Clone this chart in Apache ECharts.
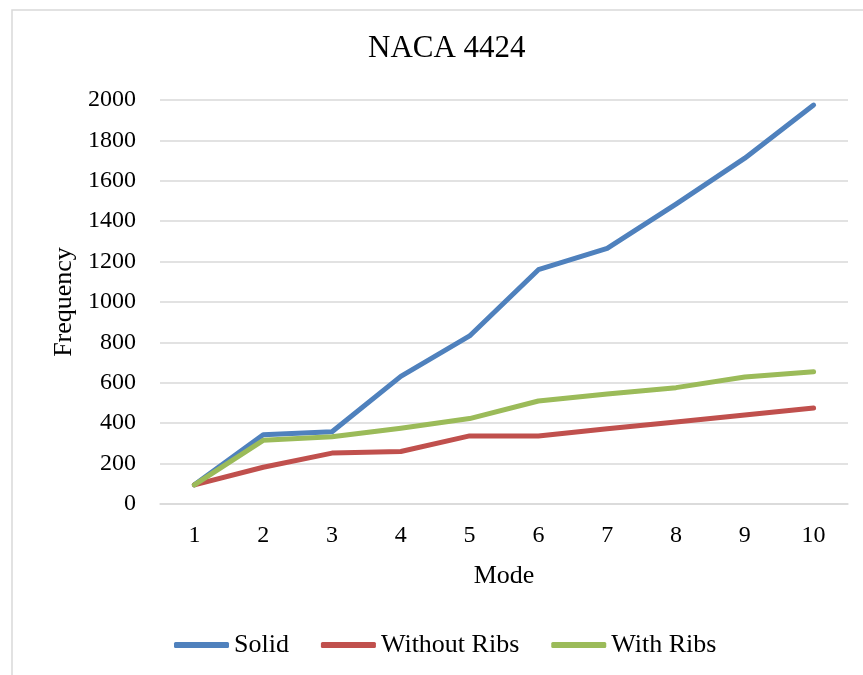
<!DOCTYPE html>
<html>
<head>
<meta charset="utf-8">
<script src="https://cdn.jsdelivr.net/npm/echarts@6/dist/echarts.min.js"></script>
<style>
  html, body { margin: 0; padding: 0; background: #ffffff; }
  #chart { width: 863px; height: 675px; }
</style>
</head>
<body>
<div id="chart"></div>
<script>
// Natural frequencies of the NACA 4424 section, by mode
const modes = ['1', '2', '3', '4', '5', '6', '7', '8', '9', '10'];
const solid = [95, 343, 358, 632, 832, 1160, 1265, 1485, 1712, 1975];
const withoutRibs = [95, 182, 252, 260, 337, 337, 372, 406, 441, 475];
const withRibs = [95, 315, 333, 375, 423, 510, 545, 576, 629, 655];

const seriesNames = ['Solid', 'Without Ribs', 'With Ribs'];
const seriesColors = ['#4F81BD', '#C0504D', '#9BBB59'];
const seriesData = [solid, withoutRibs, withRibs];

const FONT = '"Liberation Serif", "DejaVu Serif", serif';
const GRID_COLOR = '#d9d9d9';

const chart = echarts.init(document.getElementById('chart'), null, { renderer: 'canvas' });

chart.setOption({
  animation: false,
  backgroundColor: '#ffffff',
  textStyle: { fontFamily: FONT, color: '#000000' },
  graphic: [{
    type: 'rect',
    shape: { x: 12, y: 10, width: 900, height: 700 },
    style: { fill: 'none', stroke: GRID_COLOR, lineWidth: 1.5 },
    silent: true
  }],
  title: {
    text: 'NACA 4424',
    left: 363,
    top: 28,
    textStyle: { fontFamily: FONT, fontSize: 31, fontWeight: 'normal', color: '#000000' }
  },
  legend: {
    data: seriesNames,
    left: 169,
    top: 627,
    itemWidth: 55,
    itemHeight: 6,
    itemGap: 32,
    icon: 'roundRect',
    textStyle: { fontFamily: FONT, fontSize: 26, color: '#000000' }
  },
  grid: { left: 160, right: 15, top: 100, bottom: 171 },
  xAxis: {
    type: 'category',
    data: modes,
    boundaryGap: true,
    name: 'Mode',
    nameLocation: 'middle',
    nameGap: 59,
    nameTextStyle: { fontFamily: FONT, fontSize: 26, color: '#000000' },
    axisLine: { show: true, lineStyle: { color: GRID_COLOR, width: 1.5 } },
    axisTick: { show: false },
    axisLabel: { fontFamily: FONT, fontSize: 24, color: '#000000', margin: 20 },
    splitLine: { show: false }
  },
  yAxis: {
    type: 'value',
    min: 0,
    max: 2000,
    interval: 200,
    name: 'Frequency',
    nameLocation: 'middle',
    nameGap: 80,
    nameTextStyle: { fontFamily: FONT, fontSize: 26, color: '#000000' },
    axisLine: { show: false },
    axisTick: { show: false },
    axisLabel: {
      fontFamily: FONT, fontSize: 24, color: '#000000', margin: 24,
      formatter: (v) => String(v)
    },
    splitLine: { show: true, lineStyle: { color: GRID_COLOR, width: 1.5 } }
  },
  series: seriesNames.map((name, i) => ({
    name: name,
    type: 'line',
    data: seriesData[i],
    symbol: 'none',
    showSymbol: false,
    smooth: false,
    color: seriesColors[i],
    lineStyle: { color: seriesColors[i], width: 5, cap: 'round', join: 'round' },
    itemStyle: { color: seriesColors[i] }
  }))
});
</script>
</body>
</html>
